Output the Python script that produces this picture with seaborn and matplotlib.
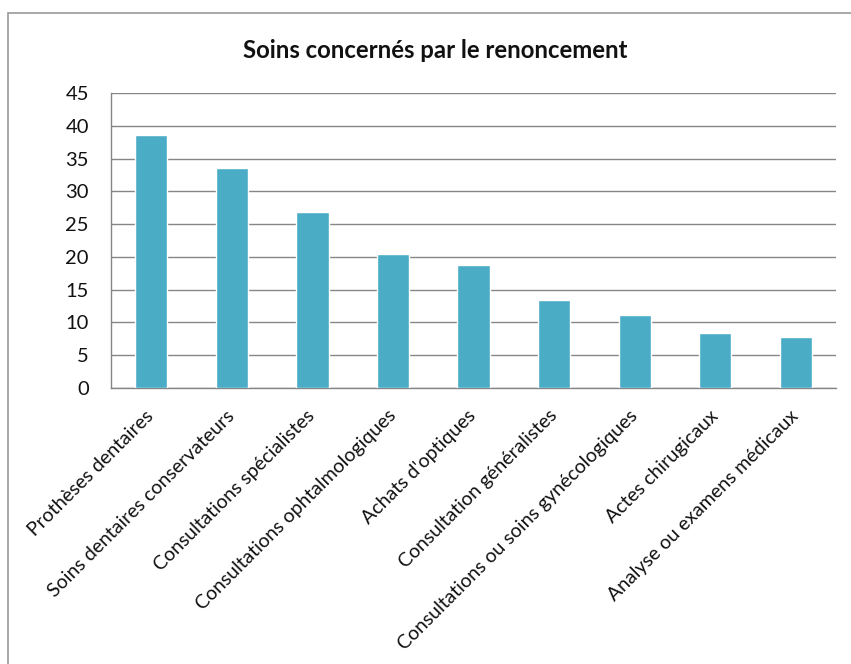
import matplotlib
matplotlib.use("Agg")
import matplotlib.pyplot as plt
import seaborn as sns
import pandas as pd
from matplotlib.patches import Rectangle

categories = [
    "Prothèses dentaires",
    "Soins dentaires conservateurs",
    "Consultations spécialistes",
    "Consultations ophtalmologiques",
    "Achats d'optiques",
    "Consultation généralistes",
    "Consultations ou soins gynécologiques",
    "Actes chirugicaux",
    "Analyse ou examens médicaux",
]
values = [38.6, 33.6, 26.9, 20.4, 18.8, 13.4, 11.1, 8.4, 7.8]
yticks = [0, 5, 10, 15, 20, 25, 30, 35, 40, 45]

sns.set_theme(style="white")
plt.rcParams["font.family"] = ["Lato", "DejaVu Sans"]

df = pd.DataFrame({"cat": categories, "val": values})

fig = plt.figure(figsize=(8.51, 6.64), dpi=100)
ax = fig.add_axes([111/851, 1-388/664, (836-111)/851, (388-93)/664])

sns.barplot(data=df, x="cat", y="val", color="#4BACC6", saturation=1, width=0.4, ax=ax, zorder=3)

ax.set_ylim(0, 45)
ax.set_xlim(-0.5, len(categories) - 0.5)
ax.set_yticks(yticks)
ax.set_yticklabels([str(t) for t in yticks], fontsize=14.5, color="#111111")
ax.yaxis.grid(True, color="#868686", linewidth=1.0, zorder=0)
ax.xaxis.grid(False)
ax.set_axisbelow(True)
for s in ["top", "right"]:
    ax.spines[s].set_visible(False)
for s in ["left", "bottom"]:
    ax.spines[s].set_color("#868686")
    ax.spines[s].set_linewidth(1.0)
ax.tick_params(axis="y", length=0, pad=16)
ax.tick_params(axis="x", length=0, pad=18)
ax.set_xlabel("")
ax.set_ylabel("")
ax.set_xticks(range(len(categories)))
ax.set_xticklabels(categories, rotation=45, ha="right", va="center", rotation_mode="anchor",
                   fontsize=14, color="#111111")

fig.text(435/851, 1-58/664, "Soins concernés par le renoncement", ha="center", va="baseline",
         fontsize=17.2, fontweight="bold", color="#111111")

fig.patches.append(Rectangle((8/851, -0.1), 1.2, 1 - 13/664 + 0.1, transform=fig.transFigure,
                             fill=False, edgecolor="#999999", linewidth=1.2))

fig.savefig("out.png", dpi=100)
